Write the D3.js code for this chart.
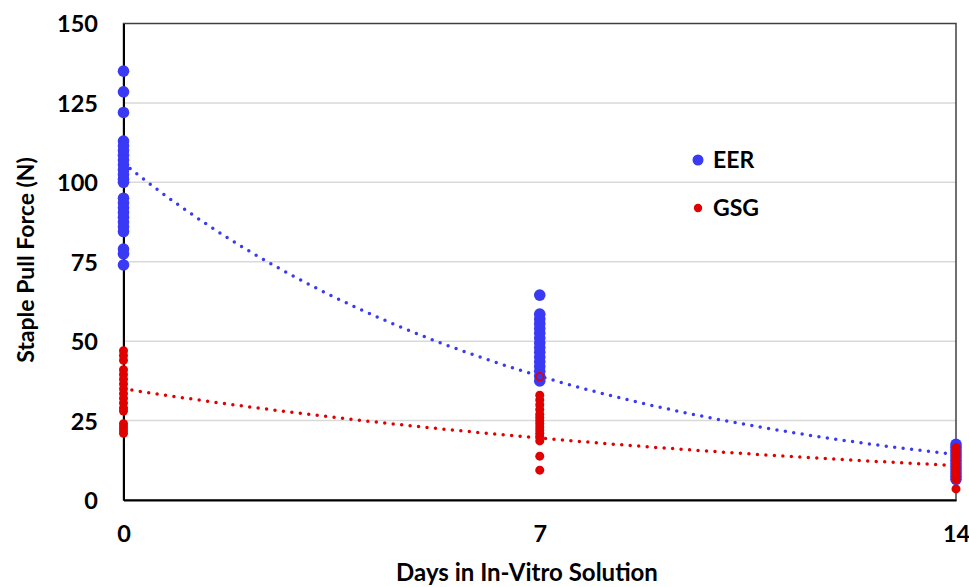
<!DOCTYPE html>
<html><head><meta charset="utf-8">
<script src="https://cdn.jsdelivr.net/npm/d3@7"></script>
<style>body{margin:0;background:#fff}svg{display:block}text{font-family:Lato,"Open Sans",sans-serif;font-weight:bold;fill:#000}</style>
</head><body><svg id="c" width="969" height="587"></svg>
<script>
const days = [0, 7, 14];
const xTicks = [0, 7, 14];
const yTicks = [0, 25, 50, 75, 100, 125, 150];
const seriesNames = ["EER", "GSG"];
const eerDay0 = [135, 128.5, 122, 113, 111.5, 110, 108.5, 107, 105.5, 104, 102.5, 101, 100, 95, 93.5, 92, 90.5, 89, 87.5, 86, 84.5, 79, 77.5, 74];
const eerDay7 = [64.5, 58.5, 57, 55.5, 54, 52.5, 51, 49.5, 48, 46.5, 45, 43.5, 42, 40.5, 39, 37.5];
const eerDay14 = [17.5, 16.5, 15.5, 14.5, 13.5, 12.5, 11.5, 10.5, 9.5, 8.5, 7.5, 6.5];
const gsgDay0 = [47, 45.5, 44, 41, 39.5, 38, 36.5, 35, 33.5, 32, 30.5, 29, 28, 24, 23, 22, 21];
const gsgDay7 = [33, 31.5, 30, 28.5, 27, 26, 25, 24, 23, 22, 21, 20, 18.6, 13.8, 9.4];
const gsgDay14 = [16.5, 15.5, 14.5, 13.5, 12.5, 11.5, 10.5, 9.5, 8.5, 7.5, 6.5, 3.5];
// GSG point drawn as outlined marker on top of EER cluster
const gsgOutlined = [[7, 38.8]];
// exponential trendlines: y = a * exp(b * x)
const eerTrend = [106, -0.1429];
const gsgTrend = [35, -0.0836];
const colors = ["#3a3af5", "#e00000"];

const svg = d3.select("#c");
const L = 123.5, R = 956, T = 23.5, B = 500;
const x = d3.scaleLinear().domain([0, 14]).range([L, R]);
const y = d3.scaleLinear().domain([0, 150]).range([B, T]);

// gridlines
svg.append("g").selectAll("line").data(yTicks.filter(v => v > 0 && v < 150)).join("line")
  .attr("x1", L).attr("x2", R).attr("y1", d => y(d)).attr("y2", d => y(d))
  .attr("stroke", "#d9d9d9").attr("stroke-width", 1.5);
// plot border
svg.append("rect").attr("x", L).attr("y", T).attr("width", R - L).attr("height", B - T)
  .attr("fill", "none").attr("stroke", "#404040").attr("stroke-width", 1.5);

// axes
const yAxis = d3.axisLeft(y).tickValues(yTicks).tickSize(0).tickPadding(25.5);
const gy = svg.append("g").attr("transform", `translate(${L},0)`).call(yAxis);
gy.select(".domain").attr("stroke", "#000").attr("stroke-width", 2);
gy.selectAll("text").style("font-size", "23.5px").attr("dy", "0.36em");
const xAxis = d3.axisBottom(x).tickValues(xTicks).tickSize(0).tickPadding(25);
const gx = svg.append("g").attr("transform", `translate(0,${B})`).call(xAxis);
gx.select(".domain").attr("stroke", "#000").attr("stroke-width", 2);
gx.selectAll("text").style("font-size", "23.5px").attr("dy", "0.71em");
svg.selectAll(".tick text").attr("font-family", null);

// trendlines
function trendPath(t) {
  const pts = d3.range(0, 14.001, 0.1).map(v => [v, t[0] * Math.exp(t[1] * v)]);
  return d3.line().x(d => x(d[0])).y(d => y(d[1]))(pts);
}
[[eerTrend, colors[0]], [gsgTrend, colors[1]]].forEach(([t, c]) => {
  svg.append("path").attr("d", trendPath(t)).attr("fill", "none").attr("stroke", c)
    .attr("stroke-width", 3.5).attr("stroke-linecap", "round").attr("stroke-dasharray", "0 8.5");
});

// points
const eer = [[0, eerDay0], [7, eerDay7], [14, eerDay14]].flatMap(([d, vs]) => vs.map(v => [d, v]));
const gsg = [[0, gsgDay0], [7, gsgDay7], [14, gsgDay14]].flatMap(([d, vs]) => vs.map(v => [d, v]));
svg.append("g").selectAll("circle").data(eer).join("circle")
  .attr("cx", d => x(d[0])).attr("cy", d => y(d[1])).attr("r", 5.8).attr("fill", colors[0]);
svg.append("g").selectAll("circle").data(gsg).join("circle")
  .attr("cx", d => x(d[0])).attr("cy", d => y(d[1])).attr("r", 4.5).attr("fill", colors[1]);
svg.append("g").selectAll("circle").data(gsgOutlined).join("circle")
  .attr("cx", d => x(d[0])).attr("cy", d => y(d[1])).attr("r", 3.8)
  .attr("fill", "none").attr("stroke", colors[1]).attr("stroke-width", 1.8);

// legend
const leg = svg.append("g");
seriesNames.forEach((n, i) => {
  const yy = 160 + i * 48;
  leg.append("circle").attr("cx", 698).attr("cy", yy).attr("r", i === 0 ? 5.5 : 4.2).attr("fill", colors[i]);
  leg.append("text").attr("x", 713).attr("y", yy).attr("dy", "0.36em").style("font-size", "23px").text(n);
});

// axis titles
svg.append("text").attr("x", 527).attr("y", 581).attr("text-anchor", "middle")
  .style("font-size", "24px").text("Days in In-Vitro Solution");
svg.append("text").attr("transform", "translate(34,260) rotate(-90)").attr("text-anchor", "middle")
  .style("font-size", "23px").text("Staple Pull Force (N)");
</script></body></html>
